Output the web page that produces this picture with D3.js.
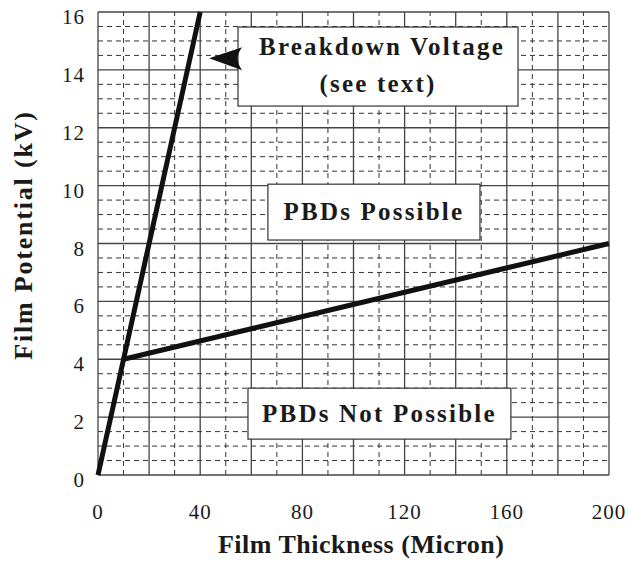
<!DOCTYPE html>
<html>
<head>
<meta charset="utf-8">
<script src="https://cdn.jsdelivr.net/npm/d3@7"></script>
<style>
  body { margin: 0; background: #fff; }
</style>
</head>
<body>
<svg width="629" height="562" font-family="Liberation Serif"></svg>
<script>
// data
var xTicks = [0, 40, 80, 120, 160, 200];
var yTicks = [0, 2, 4, 6, 8, 10, 12, 14, 16];
var breakdown = [[0, 0], [40, 16]];
var threshold = [[10, 4], [200, 8]];
var labelText = [["Breakdown Voltage", "(see text)"], ["PBDs Possible"], ["PBDs Not Possible"]];
// box corners in data units: x0, yTop, x1, yBottom
var labelBox = [[54.8, 15.48, 164.4, 12.75], [66.5, 10.05, 149.5, 8.12], [58.7, 3.0, 161.6, 1.24]];

var svg = d3.select("svg");
var margin = {left: 98, right: 20, top: 12, bottom: 87};
var width = 629 - margin.left - margin.right,
    height = 562 - margin.top - margin.bottom;

var x = d3.scaleLinear().domain([0, 200]).range([margin.left, margin.left + width]);
var y = d3.scaleLinear().domain([0, 16]).range([margin.top + height, margin.top]);

var g = svg.append("g");

// minor dashed grid
g.selectAll(".vminor").data(d3.range(10, 200, 20)).enter().append("line")
  .attr("x1", d => x(d)).attr("x2", d => x(d))
  .attr("y1", y(0)).attr("y2", y(16))
  .attr("stroke", "#333").attr("stroke-width", 1).attr("stroke-dasharray", "5,4");
g.selectAll(".hminor").data(d3.range(0.5, 16, 0.5).filter(d => d % 2 != 0)).enter().append("line")
  .attr("x1", x(0)).attr("x2", x(200))
  .attr("y1", d => y(d)).attr("y2", d => y(d))
  .attr("stroke", "#333").attr("stroke-width", 1).attr("stroke-dasharray", "5,4");

// major grid
g.selectAll(".vmajor").data(d3.range(0, 201, 20)).enter().append("line")
  .attr("x1", d => x(d)).attr("x2", d => x(d))
  .attr("y1", y(0)).attr("y2", y(16))
  .attr("stroke", "#444").attr("stroke-width", 1.3);
g.selectAll(".hmajor").data(yTicks).enter().append("line")
  .attr("x1", x(0)).attr("x2", x(200))
  .attr("y1", d => y(d)).attr("y2", d => y(d))
  .attr("stroke", "#444").attr("stroke-width", 1.3);

// label boxes
labelBox.forEach(function(b) {
  g.append("rect")
    .attr("x", x(b[0])).attr("y", y(b[1]))
    .attr("width", x(b[2]) - x(b[0])).attr("height", y(b[3]) - y(b[1]))
    .attr("fill", "#fff").attr("stroke", "#333").attr("stroke-width", 1.2);
});

// lines
var line = d3.line().x(d => x(d[0])).y(d => y(d[1]));
g.append("path").attr("d", line(breakdown))
  .attr("fill", "none").attr("stroke", "#111").attr("stroke-width", 5);
g.append("path").attr("d", line(threshold))
  .attr("fill", "none").attr("stroke", "#111").attr("stroke-width", 5);

// arrow pointing at the breakdown line
var tipX = x(43.5), tipY = y(14.4);
g.append("path")
  .attr("d", "M" + tipX + "," + tipY +
    " L" + (tipX + 33) + "," + (tipY - 11) +
    " Q" + (tipX + 24) + "," + tipY + " " + (tipX + 33) + "," + (tipY + 12) + " Z")
  .attr("fill", "#111");

// label text
labelText.forEach(function(lines, i) {
  var b = labelBox[i];
  var cx = (x(b[0]) + x(b[2])) / 2;
  var t = g.append("text")
    .attr("text-anchor", "middle")
    .attr("font-weight", "bold")
    .attr("font-size", 25)
    .attr("letter-spacing", 2.2)
    .attr("fill", "#1a1a1a");
  lines.forEach(function(s, j) {
    t.append("tspan").attr("x", cx + (i == 0 && j == 0 ? 4 : 0))
      .attr("y", (i == 0 ? y(b[1]) + 28 + j * 37 : (y(b[1]) + y(b[3])) / 2 + 8))
      .text(s);
  });
});

// axes tick labels
svg.selectAll(".xt").data(xTicks).enter().append("text")
  .attr("x", d => x(d)).attr("y", 519)
  .attr("text-anchor", "middle").attr("font-size", 21).attr("letter-spacing", 1)
  .attr("fill", "#1a1a1a")
  .text(d => d);
svg.selectAll(".yt").data(yTicks).enter().append("text")
  .attr("x", 85).attr("y", d => y(d) + 12)
  .attr("text-anchor", "end").attr("font-size", 21).attr("letter-spacing", 1)
  .attr("fill", "#1a1a1a")
  .text(d => d);

// axis titles
svg.append("text")
  .attr("x", x(103)).attr("y", 553)
  .attr("text-anchor", "middle").attr("font-weight", "bold").attr("font-size", 26)
  .attr("letter-spacing", 0.5).attr("fill", "#1a1a1a")
  .text("Film Thickness (Micron)");
svg.append("text")
  .attr("transform", "translate(32,235) rotate(-90)")
  .attr("text-anchor", "middle").attr("font-weight", "bold").attr("font-size", 26)
  .attr("letter-spacing", 1.8).attr("fill", "#1a1a1a")
  .text("Film Potential (kV)");
</script>
</body>
</html>
